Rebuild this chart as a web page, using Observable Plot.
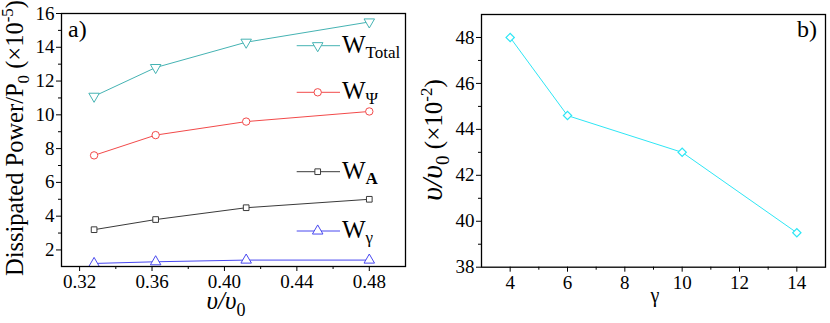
<!DOCTYPE html>
<html><head><meta charset="utf-8">
<script src="https://cdn.jsdelivr.net/npm/d3@7"></script>
<script src="https://cdn.jsdelivr.net/npm/@observablehq/plot@0.6"></script>
<style>
body{margin:0;background:#fff}
#wrap{position:relative;width:830px;height:323px;overflow:hidden}
#wrap svg{position:absolute;top:0}
#wrap svg text{font-family:"Liberation Serif","Times New Roman",Times,"DejaVu Serif",serif}
</style>
</head><body><div id="wrap"></div>
<script>
// ---- data (panel a) ----
const speedA = [0.328, 0.362, 0.412, 0.48];
const wTotal = [11.1, 12.8, 14.3, 15.5];
const wPsi = [7.6, 8.8, 9.6, 10.2];
const wA = [3.2, 3.8, 4.5, 5.0];
const wGamma = [1.2, 1.3, 1.4, 1.4];
const seriesNames = ["Total", "Ψ", "A", "γ"];
const xTicksA = [0.32, 0.36, 0.40, 0.44, 0.48];
const xMinorA = [0.34, 0.38, 0.42, 0.46];
const yTicksA = [2, 4, 6, 8, 10, 12, 14, 16];
const yMinorA = [3, 5, 7, 9, 11, 13, 15];
// ---- data (panel b) ----
const gammaB = [4, 6, 10, 14];
const speedB = [48, 44.6, 43, 39.5];
const xTicksB = [4, 6, 8, 10, 12, 14];
const xMinorB = [5, 7, 9, 11, 13];
const yTicksB = [38, 40, 42, 44, 46, 48];
const yMinorB = [39, 41, 43, 45, 47];

const serif = '"Liberation Serif","Times New Roman",Times,"DejaVu Serif",serif';
const series = [
  {name: seriesNames[0], values: wTotal, color: "#45b3b3", symbol: "triangle", rotate: 180, r: 3.9, ly: 45.7},
  {name: seriesNames[1], values: wPsi, color: "#f24a4a", symbol: "circle", rotate: 0, r: 3.7, ly: 92.3},
  {name: seriesNames[2], values: wA, color: "#3a3a3a", symbol: "square", rotate: 0, r: 3.2, ly: 171.7},
  {name: seriesNames[3], values: wGamma, color: "#4848f0", symbol: "triangle", rotate: 0, r: 3.9, ly: 231}
];
const rowsA = series.flatMap(s => s.values.map((v, i) => ({x: speedA[i], y: v, series: s.name})));
const rowsB = gammaB.map((g, i) => ({x: g, y: speedB[i]}));

const axisStyle = {fontFamily: serif, fontSize: "19px", background: "transparent", color: "#000"};

const left = Plot.plot({
  width: 415, height: 323,
  marginLeft: 61, marginRight: 10, marginTop: 13, marginBottom: 57,
  x: {domain: [0.31, 0.50]},
  y: {domain: [1.02, 16]},
  style: axisStyle,
  marks: [
    Plot.axisX({ticks: xTicksA, tickFormat: d3.format(".2f"), label: null, tickSize: 5, tickPadding: 3, fontFamily: serif}),
    Plot.axisX({ticks: xMinorA, tickFormat: () => "", label: null, tickSize: 3}),
    Plot.axisY({ticks: yTicksA, label: null, tickSize: 5, tickPadding: 2, fontFamily: serif}),
    Plot.axisY({ticks: yMinorA, tickFormat: () => "", label: null, tickSize: 3}),
    ...series.map(s => Plot.line(rowsA.filter(d => d.series === s.name), {x: "x", y: "y", stroke: s.color, strokeWidth: 1})),
    ...series.map(s => Plot.dot(rowsA.filter(d => d.series === s.name), {x: "x", y: "y", stroke: s.color, fill: "white", symbol: s.symbol, r: s.r, rotate: s.rotate, strokeWidth: 1})),
    Plot.frame({stroke: "#000", strokeWidth: 1.3})
  ]
});

const right = Plot.plot({
  width: 415, height: 323,
  marginLeft: 66, marginRight: 5, marginTop: 14, marginBottom: 56.3,
  x: {domain: [3, 15]},
  y: {domain: [38, 49]},
  style: axisStyle,
  marks: [
    Plot.axisX({ticks: xTicksB, label: null, tickSize: 5, tickPadding: 3, fontFamily: serif}),
    Plot.axisX({ticks: xMinorB, tickFormat: () => "", label: null, tickSize: 3}),
    Plot.axisY({ticks: yTicksB, label: null, tickSize: 5, tickPadding: 2, fontFamily: serif}),
    Plot.axisY({ticks: yMinorB, tickFormat: () => "", label: null, tickSize: 3}),
    Plot.line(rowsB, {x: "x", y: "y", stroke: "#2ee6f5", strokeWidth: 1}),
    Plot.dot(rowsB, {x: "x", y: "y", stroke: "#2ee6f5", fill: "white", symbol: "square", rotate: 45, r: 3.3, strokeWidth: 1.2}),
    Plot.frame({stroke: "#000", strokeWidth: 1.3})
  ]
});
right.style.left = "415px";
left.style.left = "0px";
document.getElementById("wrap").append(left, right);

// rich text helper
function richText(svg, x, y, rot, anchor, parts) {
  const t = d3.select(svg).append("text")
    .attr("transform", `translate(${x},${y}) rotate(${rot})`)
    .attr("text-anchor", anchor)
    .style("font-family", serif)
    .attr("fill", "#000");
  parts.forEach(p => {
    const s = t.append("tspan").text(p.t).style("font-size", p.size + "px");
    if (p.dy) s.attr("dy", p.dy);
    if (p.italic) s.style("font-style", "italic");
    if (p.bold) s.style("font-weight", "bold");
  });
  return t;
}

// panel a labels
richText(left, 23, 138, -90, "middle", [
  {t: "Dissipated Power/P", size: 24.5},
  {t: "0", size: 17, dy: 6},
  {t: " (×10", size: 24.5, dy: -6},
  {t: "-5", size: 17, dy: -10},
  {t: ")", size: 24.5, dy: 10}
]);
richText(left, 226, 309, 0, "middle", [
  {t: "υ/υ", size: 25, italic: true},
  {t: "0", size: 18, dy: 7}
]);
richText(left, 68, 37, 0, "start", [{t: "a)", size: 24}]);

// legend for panel a
series.forEach(s => {
  const g = d3.select(left).append("g");
  g.append("line").attr("x1", 296.7).attr("x2", 340).attr("y1", s.ly).attr("y2", s.ly)
    .attr("stroke", s.color).attr("stroke-width", 1);
  const sym = {triangle: d3.symbolTriangle, circle: d3.symbolCircle, square: d3.symbolSquare}[s.symbol];
  g.append("path").attr("d", d3.symbol(sym, Math.PI * s.r * s.r)())
    .attr("transform", `translate(317.7,${s.ly}) rotate(${s.rotate})`)
    .attr("fill", "white").attr("stroke", s.color).attr("stroke-width", 1);
  richText(left, 342, s.ly + 7, 0, "start", [
    {t: "W", size: 25},
    {t: s.name, size: 17, dy: 5, bold: s.name === "A"}
  ]);
});

// panel b labels
richText(right, 27, 140, -90, "middle", [
  {t: "υ/υ", size: 30, italic: true},
  {t: "0", size: 19, dy: 7},
  {t: " (×10", size: 25, dy: -7},
  {t: "-2", size: 17, dy: -10},
  {t: ")", size: 25, dy: 10}
]);
richText(right, 240, 302, 0, "middle", [{t: "γ", size: 20}]);
richText(right, 402, 37, 0, "end", [{t: "b)", size: 24}]);
</script>
</body></html>
